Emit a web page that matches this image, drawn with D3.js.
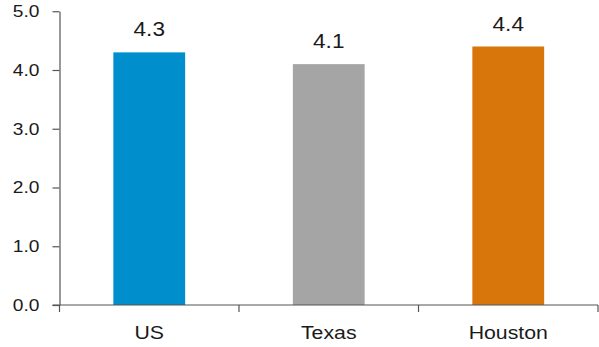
<!DOCTYPE html>
<html>
<head>
<meta charset="utf-8">
<script src="https://cdn.jsdelivr.net/npm/d3@7"></script>
<style>
  body { margin: 0; background: #fff; }
  text { font-family: 'Liberation Sans', Arial, sans-serif; fill: #1a1a1a; }
</style>
</head>
<body>
<div id="chart"></div>
<script>
const categories = ['US', 'Texas', 'Houston']
const values = [4.3, 4.1, 4.4]
const colors = ['#008fcc', '#a5a5a5', '#d8760c']
const yTicks = [0, 1, 2, 3, 4, 5]

let width = 599,
  height = 347

let margin = { top: 11.25, left: 59.5, right: 1, bottom: 42 }

// the reference font is a bit wider than Liberation Sans
let stretch = 1.13

let svg = d3.select('#chart')
  .append('svg')
  .attr('width', width)
  .attr('height', height)

let x = d3.scaleBand()
  .domain(categories)
  .range([margin.left, width - margin.right])
  .paddingInner(0.6)
  .paddingOuter(0.3)

let y = d3.scaleLinear()
  .domain([0, 5])
  .range([height - margin.bottom, margin.top])

let axisColor = '#555'

// y axis
let yAxis = svg.append('g')
  .attr('transform', `translate(${margin.left},0)`)
  .call(d3.axisLeft(y).tickValues(yTicks).tickFormat(d3.format('.1f')).tickSize(7).tickSizeOuter(0).tickPadding(0))
yAxis.select('.domain').attr('stroke', axisColor).attr('stroke-width', 1.2)
yAxis.selectAll('.tick line').attr('stroke', axisColor).attr('stroke-width', 1.2)
yAxis.selectAll('.tick text')
  .attr('x', null)
  .attr('transform', `translate(-20,0) scale(${stretch},1)`)
  .style('font-size', '17px')
  .attr('fill', '#1a1a1a')

// bars
svg.selectAll('.bar')
  .data(categories)
  .enter()
  .append('rect')
  .attr('class', 'bar')
  .attr('x', d => x(d))
  .attr('width', x.bandwidth())
  .attr('y', (d, i) => y(values[i]))
  .attr('height', (d, i) => y(0) - y(values[i]))
  .attr('fill', (d, i) => colors[i])

// value labels
svg.selectAll('.label')
  .data(categories)
  .enter()
  .append('text')
  .attr('class', 'label')
  .attr('transform', (d, i) => `translate(${x(d) + x.bandwidth() / 2},${y(values[i]) - 16}) scale(${stretch},1)`)
  .attr('text-anchor', 'middle')
  .style('font-size', '20px')
  .text((d, i) => values[i].toFixed(1))

// x axis
let y0 = y(0)
let step = x.step()
let boundaries = [margin.left].concat(categories.map(d => x(d) - x.paddingInner() * step / 2 + step))
svg.append('line')
  .attr('x1', margin.left - 7)
  .attr('x2', width - margin.right)
  .attr('y1', y0)
  .attr('y2', y0)
  .attr('stroke', axisColor)
  .attr('stroke-width', 1.2)

svg.selectAll('.xtick')
  .data(boundaries)
  .enter()
  .append('line')
  .attr('class', 'xtick')
  .attr('x1', d => d)
  .attr('x2', d => d)
  .attr('y1', y0)
  .attr('y2', y0 + 7)
  .attr('stroke', axisColor)
  .attr('stroke-width', 1.2)

svg.selectAll('.xlabel')
  .data(categories)
  .enter()
  .append('text')
  .attr('class', 'xlabel')
  .attr('transform', d => `translate(${x(d) + x.bandwidth() / 2},${y0 + 34}) scale(1.15,1)`)
  .attr('text-anchor', 'middle')
  .style('font-size', '18.5px')
  .text(d => d)
</script>
</body>
</html>
